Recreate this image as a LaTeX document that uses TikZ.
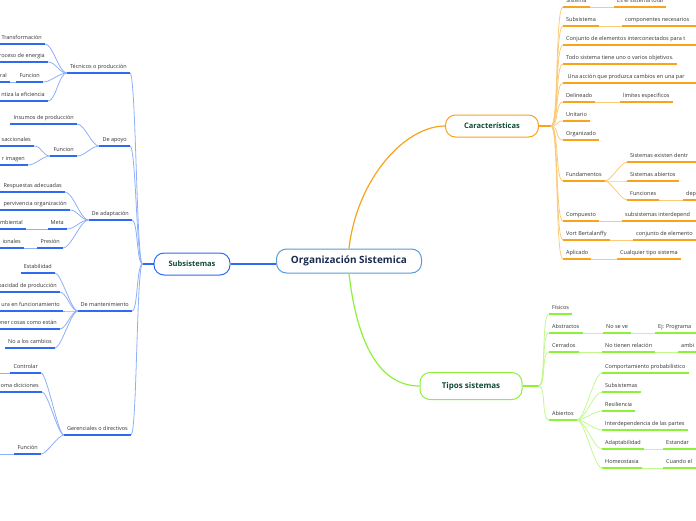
\documentclass[tikz,border=0pt]{standalone}
\usepackage{fontspec}
\setmainfont{Open Sans}
\usepackage{tikz}
\definecolor{rootline}{HTML}{5B9BD5}
\definecolor{roottext}{HTML}{1C2B4F}
\definecolor{toptext}{HTML}{124A38}
\definecolor{leaftext}{HTML}{333333}
\definecolor{bluel}{HTML}{2F6BF0}
\definecolor{bluec}{HTML}{8DB0F7}
\definecolor{orangel}{HTML}{F9A21B}
\definecolor{orangec}{HTML}{FCCB7A}
\definecolor{greenl}{HTML}{8DF03A}
\definecolor{greenc}{HTML}{C3F88F}
\tikzset{
	root/.style={draw=rootline,line width=1pt,rounded corners=10pt,fill=white,minimum width=145pt,minimum height=24pt,text=roottext,font=\bfseries\fontsize{10}{11}\selectfont},
	topic/.style 2 args={draw=#1,line width=1pt,rounded corners=10pt,fill=white,minimum width=#2,minimum height=22pt,text=toptext,font=\bfseries\fontsize{7.5}{9}\selectfont},
	rleaf/.style={anchor=south west,inner xsep=3pt,inner ysep=2.5pt,text depth=1.4pt,text=leaftext,font=\fontsize{5.5}{6.5}\selectfont},
	lleaf/.style={rleaf,anchor=south east},
	bline/.style={draw=bluel,line width=1.4pt},
	bcurve/.style={draw=bluec,line width=0.8pt},
	oline/.style={draw=orangel,line width=1.4pt},
	ocurve/.style={draw=orangec,line width=0.8pt},
	gline/.style={draw=greenl,line width=1.4pt},
	gcurve/.style={draw=greenc,line width=0.8pt}
}
\begin{document}
\begin{tikzpicture}[x=1pt,y=-1pt]
	\useasboundingbox (0,0) rectangle (696,520);
	\coordinate (redge) at (700,0);
	\coordinate (ledge) at (-4,0);

	\node [root] (org) at (349,261) {Organización Sistemica};
	\node [topic={bluel}{76pt}] (sub) at (192,264) {Subsistemas};
	\node [topic={orangel}{93pt}] (car) at (492,126) {Características};
	\node [topic={greenl}{102pt},minimum height=27pt,font=\bfseries\fontsize{8}{9}\selectfont] (tip) at (471,386) {Tipos sistemas};

	\draw [bline,line width=1.2pt] (sub.east) -- (sub.east -| org.west);
	\draw [oline,line width=1.2pt] (org.north) .. controls +(8,-70) and +(-40,0) .. (car.west);
	\draw [gline,line width=1.2pt] (org.south) .. controls +(8,70) and +(-40,0) .. (tip.west);

	\node [rleaf] (c1) at (563,7) {Sistema};
	\node [rleaf] (c1a) at (614,7) {Es el sistema total};
	\node [rleaf] (c2) at (563,26) {Subsistema};
	\node [rleaf] (c2a) at (622,26) {componentes necesarios};
	\node [rleaf] (c3) at (563,45) {Conjunto de elementos interconectados para t};
	\node [rleaf] (c4) at (563,64) {Todo sistema tiene uno o varios objetivos.};
	\node [rleaf] (c5) at (563,83) {\ Una acción que produzca cambios en una par};
	\node [rleaf] (c6) at (563,102) {Delineado};
	\node [rleaf] (c6a) at (620,102) {limites especificos};
	\node [rleaf] (c7) at (563,121) {Unitario};
	\node [rleaf] (c8) at (563,140) {Organizado};
	\node [rleaf] (c9) at (563,181) {Fundamentos};
	\node [rleaf] (c9a) at (627,162) {Sistemas existen dentr};
	\node [rleaf] (c9b) at (627,181) {Sistemas abiertos};
	\node [rleaf] (c9c) at (627,200) {Funciones};
	\node [rleaf] (c9d) at (683,200) {dep};
	\node [rleaf] (c10) at (563,221) {Compuesto};
	\node [rleaf] (c10a) at (622,221) {subsistemas interdepend};
	\node [rleaf] (c11) at (563,240) {Vort Bertalanffy};
	\node [rleaf] (c11a) at (633,240) {conjunto de elemento};
	\node [rleaf] (c12) at (563,259) {Aplicado};
	\node [rleaf] (c12a) at (617,259) {Cualquier tipo sistema};

	\coordinate (carj) at ([xshift=12pt]car.east);
	\draw [oline] (car.east) -- (carj);
	\foreach \n in {c1,c2,c3,c4,c5,c6,c7,c8,c9,c10,c11,c12}
		\draw [ocurve] (carj) .. controls +(8,0) and +(-8,0) .. (\n.south west);
	\foreach \n in {c9a,c9b,c9c}
		\draw [ocurve] (c9.south east) .. controls +(6,0) and +(-6,0) .. (\n.south west);
	\foreach \a/\b in {c1/c1a,c2/c2a,c6/c6a,c9c/c9d,c10/c10a,c11/c11a,c12/c12a}
		\draw [ocurve] (\a.south east) -- (\b.south west);
	\foreach \n in {c1,c1a,c2,c4,c6,c6a,c7,c8,c9,c9b,c9c,c10,c11,c12,c12a}
		\draw [oline] (\n.south west) -- (\n.south east);
	\foreach \n in {c2a,c3,c5,c9a,c9d,c10a,c11a}
		\draw [oline] (\n.south west) -- (\n.south west -| redge);

	\node [rleaf] (t1) at (549,314) {Físicos};
	\node [rleaf] (t2) at (549,333) {Abstractos};
	\node [rleaf] (t2a) at (603,333) {No se ve};
	\node [rleaf] (t2b) at (655,333) {Ej: Programa};
	\node [rleaf] (t3) at (549,352) {Cerrados};
	\node [rleaf] (t3a) at (602,352) {No tienen relación};
	\node [rleaf] (t3b) at (678,352) {ambi};
	\node [rleaf] (t4) at (549,420) {Abiertos};
	\node [rleaf] (t4a) at (602,373) {Comportamiento probabilístico};
	\node [rleaf] (t4b) at (602,392) {Subsistemas};
	\node [rleaf] (t4c) at (602,411) {Resiliencia};
	\node [rleaf] (t4d) at (602,430) {Interdependencia de las partes};
	\node [rleaf] (t4e) at (602,449) {Adaptabilidad};
	\node [rleaf] (t4g) at (663,449) {Estandar};
	\node [rleaf] (t4f) at (602,468) {Homeostasia};
	\node [rleaf] (t4h) at (663,468) {Cuando el};

	\coordinate (tipj) at ([xshift=16pt]tip.east);
	\draw [gline] (tip.east) -- (tipj);
	\foreach \n in {t1,t2,t3,t4}
		\draw [gcurve] (tipj) .. controls +(8,0) and +(-8,0) .. (\n.south west);
	\foreach \n in {t4a,t4b,t4c,t4d,t4e,t4f}
		\draw [gcurve] (t4.south east) .. controls +(8,0) and +(-8,0) .. (\n.south west);
	\foreach \a/\b in {t2/t2a,t2a/t2b,t3/t3a,t3a/t3b,t4e/t4g,t4f/t4h}
		\draw [gcurve] (\a.south east) -- (\b.south west);
	\foreach \n in {t1,t2,t2a,t3,t3a,t4,t4a,t4b,t4c,t4d,t4e,t4f}
		\draw [gline] (\n.south west) -- (\n.south east);
	\foreach \n in {t2b,t3b,t4g,t4h}
		\draw [gline] (\n.south west) -- (\n.south west -| redge);

	\node [lleaf] (s1) at (130,73) {Técnicos o producción};
	\node [lleaf] (s1a) at (45,44) {Transformación};
	\node [lleaf] (s1b) at (48,62) {roceso de energia};
	\node [lleaf] (s1c) at (43,82) {Funcion};
	\node [lleaf] (s1d) at (10,82) {ral};
	\node [lleaf] (s1e) at (48,101) {ntiza la eficiencia};
	\node [lleaf] (s2) at (130,146) {De apoyo};
	\node [lleaf] (s2a) at (77,124) {Insumos de producción};
	\node [lleaf] (s2b) at (77,156) {Funcion};
	\node [lleaf] (s2c) at (34,146) {saccionales};
	\node [lleaf] (s2d) at (28,165) {r imagen};
	\node [lleaf] (s3) at (132,220) {De adaptación};
	\node [lleaf] (s3a) at (65,192) {Respuestas adecuadas};
	\node [lleaf] (s3b) at (70,210) {pervivencia organización};
	\node [lleaf] (s3c) at (67,229) {Meta};
	\node [lleaf] (s3d) at (26,229) {mbiental};
	\node [lleaf] (s3e) at (63,248) {Presión};
	\node [lleaf] (s3f) at (24,248) {ionales};
	\node [lleaf] (s4) at (132,311) {De mantenimiento};
	\node [lleaf] (s4a) at (55,273) {Estabilidad};
	\node [lleaf] (s4b) at (60,292) {pacidad de producción};
	\node [lleaf] (s4c) at (63,311) {ura en funcionamiento};
	\node [lleaf] (s4d) at (60,329) {ener cosas como están};
	\node [lleaf] (s4e) at (55,348) {No a los cambios};
	\node [lleaf] (s5) at (131,435) {Gerenciales o directivos};
	\node [lleaf] (s5a) at (41,373) {Controlar};
	\node [lleaf] (s5b) at (42,392) {oma diciciones};
	\node [lleaf] (s5c) at (41,454) {Función};

	\coordinate (subj) at ([xshift=-11pt]sub.west);
	\draw [bline] (sub.west) -- (subj);
	\foreach \n in {s1,s2,s3,s4,s5}
		\draw [bcurve] (subj) .. controls +(-6,0) and +(6,0) .. (\n.south east);
	\foreach \n in {s1a,s1b,s1c,s1e}
		\draw [bcurve] (s1.south west) .. controls +(-8,0) and +(8,0) .. (\n.south east);
	\foreach \n in {s2a,s2b}
		\draw [bcurve] (s2.south west) .. controls +(-8,0) and +(8,0) .. (\n.south east);
	\foreach \n in {s2c,s2d}
		\draw [bcurve] (s2b.south west) .. controls +(-8,0) and +(8,0) .. (\n.south east);
	\foreach \n in {s3a,s3b,s3c,s3e}
		\draw [bcurve] (s3.south west) .. controls +(-8,0) and +(8,0) .. (\n.south east);
	\foreach \n in {s4a,s4b,s4c,s4d,s4e}
		\draw [bcurve] (s4.south west) .. controls +(-6,0) and +(6,0) .. (\n.south east);
	\foreach \n in {s5a,s5b,s5c}
		\draw [bcurve] (s5.south west) .. controls +(-6,0) and +(6,0) .. (\n.south east);
	\foreach \a/\b in {s1c/s1d,s3c/s3d,s3e/s3f}
		\draw [bcurve] (\a.south west) -- (\b.south east);
	\foreach \n in {s5a,s5c,s3a}
		\draw [bcurve] (\n.south west) -- (\n.south west -| ledge);
	\foreach \n in {s1,s1c,s2,s2a,s2b,s3,s3a,s3c,s3e,s4,s4a,s4e,s5,s5a,s5c}
		\draw [bline] (\n.south west) -- (\n.south east);
	\foreach \n in {s1a,s1b,s1d,s1e,s2c,s2d,s3b,s3d,s3f,s4b,s4c,s4d,s5b}
		\draw [bline] (\n.south east) -- (\n.south east -| ledge);
\end{tikzpicture}
\end{document}
